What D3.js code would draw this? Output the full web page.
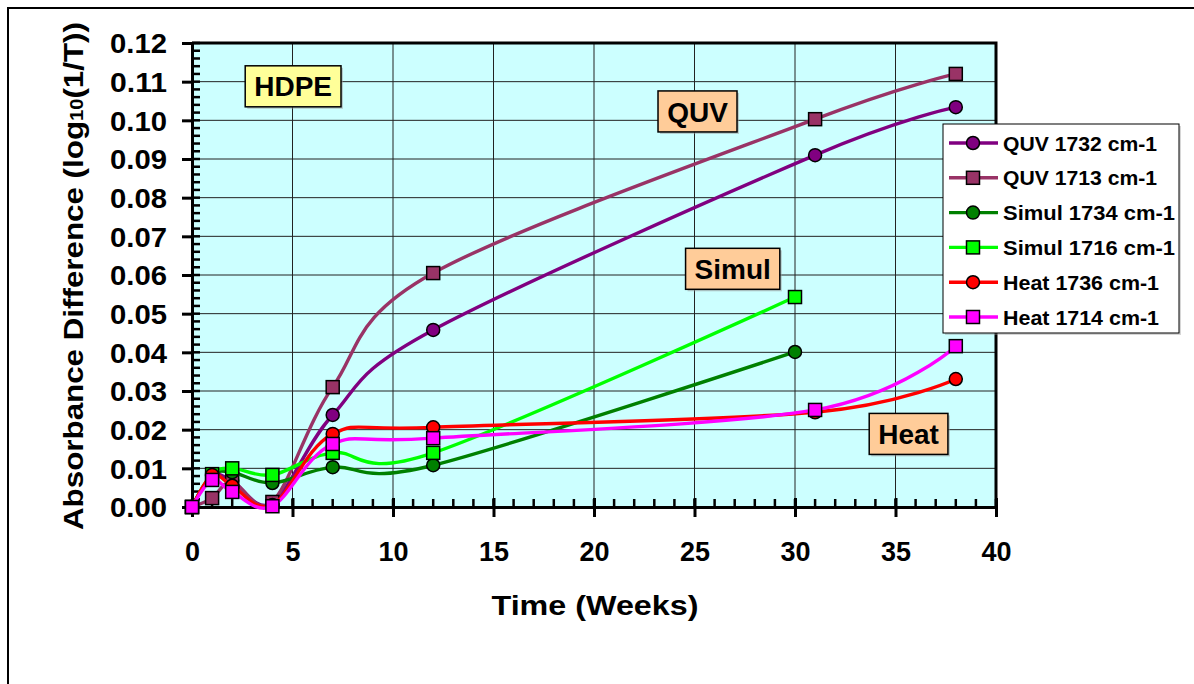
<!DOCTYPE html>
<html><head><meta charset="utf-8">
<script src="https://cdn.jsdelivr.net/npm/d3@7"></script>
<style>html,body{margin:0;padding:0;background:#fff;}svg{display:block;font-family:"Liberation Sans",Arial,sans-serif;font-weight:bold;}</style>
</head><body>
<svg id="c" width="1194" height="684"></svg>
<script>
// ---- data ----
const weeksQUV = [0, 1, 2, 4, 7, 12, 31, 38];
const quv1732 = [0, 0.0080, 0.0068, 0.0010, 0.0238, 0.0458, 0.0910, 0.1034];
const quv1713 = [0, 0.0023, 0.0065, 0.0013, 0.0310, 0.0605, 0.1003, 0.1120];
const weeksSimul = [0, 1, 2, 4, 7, 12, 30];
const simul1734 = [0, 0.0082, 0.0090, 0.0062, 0.0103, 0.0108, 0.0401];
const simul1716 = [0, 0.0085, 0.0100, 0.0083, 0.0140, 0.0140, 0.0543];
const weeksHeat = [0, 1, 2, 4, 7, 12, 31, 38];
const heat1736 = [0, 0.0083, 0.0055, 0.0005, 0.0189, 0.0206, 0.0245, 0.0331];
const heat1714 = [0, 0.0070, 0.0039, 0.0002, 0.0163, 0.0178, 0.0251, 0.0416];
const seriesNames = ["QUV 1732 cm-1", "QUV 1713 cm-1", "Simul 1734 cm-1", "Simul 1716 cm-1", "Heat 1736 cm-1", "Heat 1714 cm-1"];
const xTicks = [0, 5, 10, 15, 20, 25, 30, 35, 40];
const yTicks = [0, 0.01, 0.02, 0.03, 0.04, 0.05, 0.06, 0.07, 0.08, 0.09, 0.10, 0.11, 0.12];
const annotations = [
  {text: "HDPE", x: 5.03, y: 0.1088, fill: "#FFFF99"},
  {text: "QUV", x: 25.15, y: 0.1023, fill: "#FFCC99"},
  {text: "Simul", x: 26.9, y: 0.0616, fill: "#FFCC99"},
  {text: "Heat", x: 35.65, y: 0.0189, fill: "#FFCC99"}
];

const series = [
  {name: seriesNames[0], xs: weeksQUV, ys: quv1732, color: "#800080", shape: "circle"},
  {name: seriesNames[1], xs: weeksQUV, ys: quv1713, color: "#993366", shape: "square"},
  {name: seriesNames[2], xs: weeksSimul, ys: simul1734, color: "#008000", shape: "circle"},
  {name: seriesNames[3], xs: weeksSimul, ys: simul1716, color: "#00FF00", shape: "square"},
  {name: seriesNames[4], xs: weeksHeat, ys: heat1736, color: "#FF0000", shape: "circle"},
  {name: seriesNames[5], xs: weeksHeat, ys: heat1714, color: "#FF00FF", shape: "square"}
];

const svg = d3.select("#c");
const L = 192, R = 996, T = 43, B = 507;
const x = d3.scaleLinear().domain([0, 40]).range([L, R]);
const y = d3.scaleLinear().domain([0, 0.12]).range([B, T]);
const FONT = "Liberation Sans, Arial, sans-serif";

// outer chart frame
svg.append("rect").attr("x", 8).attr("y", 8).attr("width", 1250).attr("height", 740)
  .attr("fill", "#fff").attr("stroke", "#000").attr("stroke-width", 2);

// plot background
svg.append("rect").attr("x", L).attr("y", T).attr("width", R - L).attr("height", B - T).attr("fill", "#CCFFFF");

// grid
const g = svg.append("g");
g.selectAll("line.vg").data(xTicks.filter(d => d > 0 && d < 40)).enter().append("line")
  .attr("x1", d => x(d)).attr("x2", d => x(d)).attr("y1", T).attr("y2", B)
  .attr("stroke", "#222").attr("stroke-width", 1);
g.selectAll("line.hg").data(yTicks.filter(d => d > 0 && d < 0.12)).enter().append("line")
  .attr("x1", L).attr("x2", R).attr("y1", d => y(d)).attr("y2", d => y(d))
  .attr("stroke", "#222").attr("stroke-width", 1);

// top/right border
svg.append("path").attr("d", `M${L},${T}H${R}V${B}`).attr("fill", "none").attr("stroke", "#000").attr("stroke-width", 3);

// y axis
const yAxis = d3.axisLeft(y).tickValues(yTicks).tickSize(10).tickFormat(d3.format(".2f"));
const ya = svg.append("g").attr("transform", `translate(${L},0)`).call(yAxis);
ya.attr("font-size", null).attr("font-family", null);
ya.select(".domain").attr("stroke-width", 3);
ya.selectAll(".tick line").attr("stroke-width", 3);
ya.selectAll(".tick text").style("font-size", "27px").style("font-weight", "bold").style("font-family", FONT)
  .attr("fill", "#000").attr("x", -25).attr("dy", "0.36em").attr("textLength", 57).attr("lengthAdjust", "spacingAndGlyphs");
// y minor ticks (inside)
const yMinor = d3.range(0, 0.1201, 0.002);
svg.append("g").selectAll("line").data(yMinor).enter().append("line")
  .attr("x1", L).attr("x2", L + 8).attr("y1", d => y(d)).attr("y2", d => y(d))
  .attr("stroke", "#000").attr("stroke-width", 2.5);

// x axis
const xAxis = d3.axisBottom(x).tickValues(xTicks).tickSize(10).tickFormat(d3.format("d"));
const xa = svg.append("g").attr("transform", `translate(0,${B})`).call(xAxis);
xa.attr("font-size", null).attr("font-family", null);
xa.select(".domain").attr("stroke-width", 3);
xa.selectAll(".tick line").attr("stroke-width", 3).attr("y1", -9);
xa.selectAll(".tick text").style("font-size", "27px").style("font-weight", "bold").style("font-family", FONT)
  .attr("fill", "#000").attr("y", 54).attr("dy", null);
const xMinor = d3.range(0, 41, 1);
svg.append("g").selectAll("line").data(xMinor).enter().append("line")
  .attr("x1", d => x(d)).attr("x2", d => x(d)).attr("y1", B).attr("y2", B - 8)
  .attr("stroke", "#000").attr("stroke-width", 2.5);

// axis titles
svg.append("text").attr("x", x(20) + 1).attr("y", 615).attr("text-anchor", "middle")
  .style("font-size", "28px").attr("textLength", 207).attr("lengthAdjust", "spacingAndGlyphs").text("Time (Weeks)");
const yt = svg.append("text").attr("transform", "translate(83,276) rotate(-90)").attr("text-anchor", "middle")
  .style("font-size", "28px").attr("textLength", 508).attr("lengthAdjust", "spacingAndGlyphs");
yt.append("tspan").text("Absorbance Difference (log");
yt.append("tspan").style("font-size", "18px").text("10");
yt.append("tspan").text("(1/T))");

// annotation boxes
annotations.forEach(a => {
  const ag = svg.append("g");
  const sh = ag.append("rect");
  const bx = ag.append("rect");
  const t = ag.append("text").attr("x", x(a.x)).attr("y", y(a.y)).attr("text-anchor", "middle")
    .attr("dy", "0.36em").style("font-size", "28px").text(a.text);
  const bb = t.node().getBBox();
  const cx = x(a.x), cy = y(a.y);
  const w = bb.width + 18, h = 41;
  sh.attr("x", cx - w / 2 + 2).attr("y", cy - h / 2 + 2).attr("width", w).attr("height", h)
    .attr("fill", "#999").attr("opacity", 0.5);
  bx.attr("x", cx - w / 2).attr("y", cy - h / 2).attr("width", w).attr("height", h)
    .attr("fill", a.fill).attr("stroke", "#000").attr("stroke-width", 1.5);
});

// series
const line = d3.line().curve(d3.curveCatmullRom.alpha(0)).x(d => x(d[0])).y(d => y(d[1]));
function marker(sel, s, cx, cy) {
  if (s.shape === "circle") {
    sel.append("circle").attr("cx", cx).attr("cy", cy).attr("r", 6.5)
      .attr("fill", s.color).attr("stroke", "#000").attr("stroke-width", 1.5);
  } else {
    sel.append("rect").attr("x", cx - 6.5).attr("y", cy - 6.5).attr("width", 13).attr("height", 13)
      .attr("fill", s.color).attr("stroke", "#000").attr("stroke-width", 1.5);
  }
}
series.forEach(s => {
  const pts = s.xs.map((xx, i) => [xx, s.ys[i]]);
  const sg = svg.append("g");
  sg.append("path").attr("d", line(pts)).attr("fill", "none").attr("stroke", s.color).attr("stroke-width", 3.4);
  pts.forEach(p => marker(sg, s, x(p[0]), y(p[1])));
});

// legend
const lg = svg.append("g");
lg.append("rect").attr("x", 945).attr("y", 126).attr("width", 236).attr("height", 209).attr("fill", "#999").attr("opacity", 0.4);
lg.append("rect").attr("x", 943).attr("y", 124).attr("width", 236).attr("height", 209).attr("fill", "#fff").attr("stroke", "#000").attr("stroke-width", 1);
series.forEach((s, i) => {
  const cy = 143 + i * 34.8;
  lg.append("line").attr("x1", 949).attr("x2", 998).attr("y1", cy).attr("y2", cy).attr("stroke", s.color).attr("stroke-width", 3.4);
  marker(lg, s, 973, cy);
  const tw = 154 + (s.name.startsWith("Simul") ? 18 : (s.name.startsWith("Heat") ? 2 : 0));
  lg.append("text").attr("x", 1003).attr("y", cy).attr("dy", "0.36em").style("font-size", "21px")
    .attr("textLength", tw).attr("lengthAdjust", "spacingAndGlyphs").text(s.name);
});
</script>
</body></html>
